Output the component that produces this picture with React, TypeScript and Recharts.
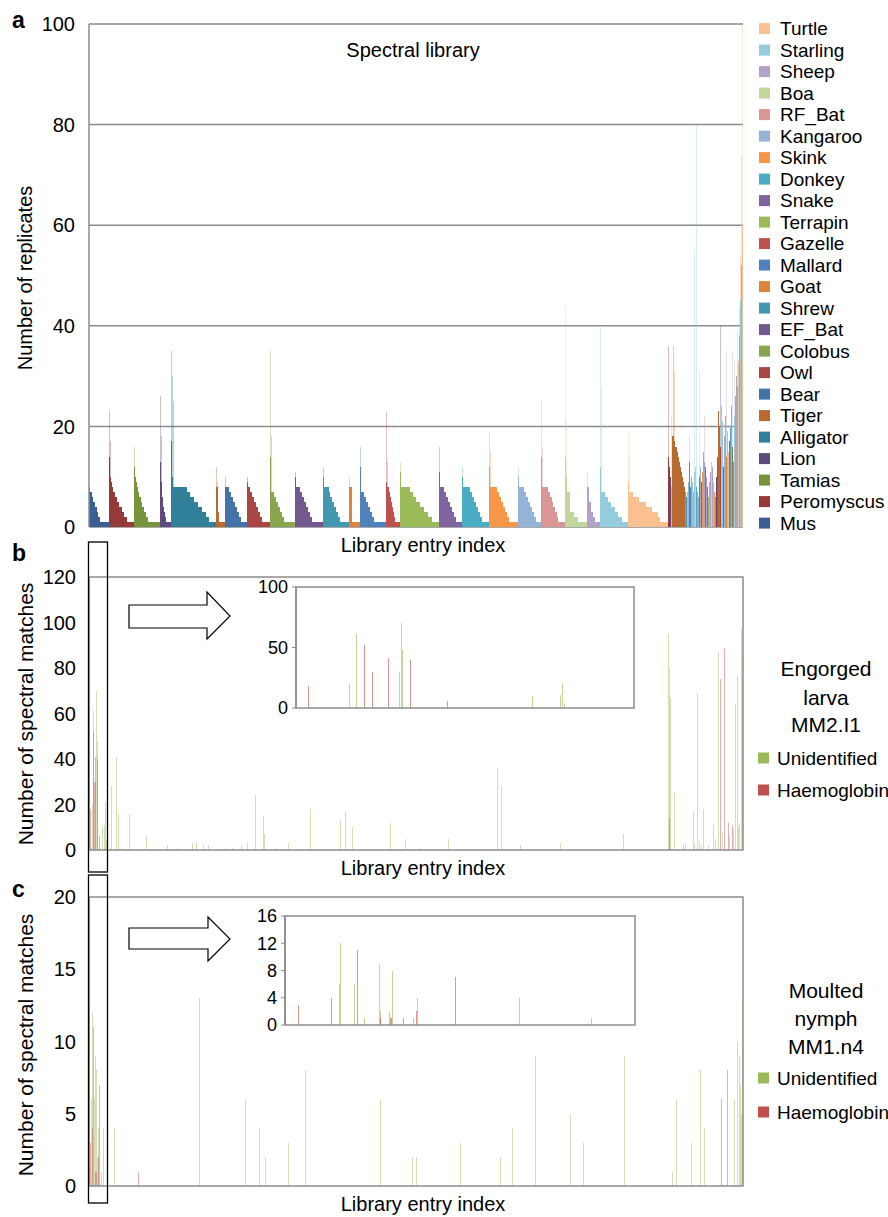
import React from 'react';
import { BarChart, Bar, XAxis, YAxis, CartesianGrid, Cell } from 'recharts';

const FONT = '"Liberation Sans", Arial, Helvetica, sans-serif';
const AXIS_GREY = '#8c8c8c';

// species in the order they appear along the library (left to right)
const speciesOrder = [
  'Mus', 'Peromyscus', 'Tamias', 'Lion', 'Alligator', 'Tiger', 'Bear', 'Owl',
  'Colobus', 'EF_Bat', 'Shrew', 'Goat', 'Mallard', 'Gazelle', 'Terrapin', 'Snake',
  'Donkey', 'Skink', 'Kangaroo', 'RF_Bat', 'Boa', 'Sheep', 'Starling', 'Turtle',
];
const speciesColors = [
  '#3a6093', '#953a38', '#77933c', '#5e4a7c', '#31809a', '#b96a2f', '#4572a7', '#aa4643',
  '#89a54e', '#71588f', '#4198af', '#db843d', '#4f81bd', '#c0504d', '#9bbb59', '#8064a2',
  '#4bacc6', '#f79646', '#95b3d7', '#d99694', '#c3d69b', '#b3a2c7', '#93cddd', '#fac090',
];

// replicate counts per species block: faint top entries, then [value, run length]
const blockPeaks = [
  [], [23, 17], [16], [26, 18], [35, 30, 25], [12, 9], [10], [10],
  [35, 18], [11], [12], [10], [16], [23, 13], [13], [16],
  [12], [19, 15], [12], [25, 16], [44, 21], [11], [40, 28], [19, 14],
];
const blockSteps = [
  [[8, 1], [7, 2], [6, 1], [5, 2], [4, 2], [3, 1], [2, 2], [1, 9]],
  [[14, 1], [10, 1], [9, 1], [8, 1], [7, 2], [6, 2], [5, 2], [4, 3], [3, 2], [2, 3], [1, 7]],
  [[12, 1], [10, 1], [9, 1], [8, 1], [7, 1], [6, 2], [5, 1], [4, 2], [3, 2], [2, 2], [1, 12]],
  [[13, 1], [9, 1], [6, 1], [4, 1], [3, 1], [2, 1], [1, 5]],
  [[17, 1], [10, 1], [8, 14], [7, 3], [6, 4], [5, 4], [4, 4], [3, 4], [2, 3], [1, 7]],
  [[8, 2], [3, 1], [1, 6]],
  [[8, 4], [7, 2], [6, 2], [5, 2], [4, 2], [3, 2], [2, 2], [1, 6]],
  [[9, 1], [8, 2], [7, 2], [6, 2], [5, 2], [4, 2], [3, 2], [2, 2], [1, 8]],
  [[14, 1], [7, 3], [6, 2], [5, 2], [4, 2], [3, 2], [2, 2], [1, 11]],
  [[10, 1], [8, 4], [7, 2], [6, 2], [5, 2], [4, 2], [3, 2], [2, 2], [1, 11]],
  [[10, 1], [8, 5], [7, 1], [6, 2], [5, 2], [4, 2], [3, 2], [2, 2], [1, 9]],
  [[8, 3], [1, 8]],
  [[12, 1], [7, 3], [6, 2], [5, 2], [4, 2], [3, 2], [2, 2], [1, 12]],
  [[9, 1], [8, 2], [7, 1], [6, 1], [5, 1], [4, 1], [3, 1], [2, 1], [1, 5]],
  [[11, 1], [8, 9], [7, 3], [6, 3], [5, 4], [4, 4], [3, 4], [2, 4], [1, 7]],
  [[11, 1], [8, 4], [7, 2], [6, 2], [5, 2], [4, 2], [3, 2], [2, 2], [1, 6]],
  [[10, 1], [8, 7], [7, 2], [6, 2], [5, 2], [4, 2], [3, 2], [2, 2], [1, 7]],
  [[12, 1], [8, 7], [7, 2], [6, 2], [5, 2], [4, 2], [3, 2], [2, 2], [1, 9]],
  [[10, 1], [8, 5], [7, 2], [6, 2], [5, 2], [4, 2], [3, 2], [2, 2], [1, 5]],
  [[14, 1], [8, 6], [7, 2], [6, 2], [5, 1], [4, 2], [3, 2], [2, 1], [1, 7]],
  [[14, 1], [10, 1], [7, 3], [3, 4], [2, 4], [1, 9]],
  [[8, 2], [5, 2], [3, 2], [2, 2], [1, 5]],
  [[12, 1], [7, 4], [6, 3], [5, 3], [4, 4], [3, 3], [2, 4], [1, 6]],
  [[9, 1], [7, 4], [6, 6], [5, 7], [4, 6], [3, 6], [2, 2], [1, 8]],
];

// entries with several species mixed, at the right end of the library
const mixedSpecies = [
  'Peromyscus', 'Peromyscus', 'Lion', 'Starling', 'Tiger', 'Tiger', 'Tiger', 'Tiger', 'Tiger', 'Tiger',
  'Tiger', 'Tiger', 'Tiger', 'Tiger', 'Tiger', 'Tiger', 'Tiger', 'Colobus', 'Shrew', 'Starling',
  'Kangaroo', 'Tiger', 'Mallard', 'RF_Bat', 'Starling', 'Kangaroo', 'Starling', 'Turtle', 'Donkey', 'Skink',
  'Sheep', 'Mallard', 'Kangaroo', 'Gazelle', 'Skink', 'Sheep', 'Sheep', 'Snake', 'Sheep', 'Tiger',
  'Terrapin', 'Kangaroo', 'Sheep', 'Turtle', 'Sheep', 'Starling', 'Skink', 'Goat', 'Lion', 'Bear',
  'Tiger', 'Tiger', 'Owl', 'Starling', 'Starling', 'Gazelle', 'Kangaroo', 'Sheep', 'Goat', 'Starling',
  'Turtle', 'Snake', 'Donkey', 'Sheep', 'Tiger', 'Goat', 'Starling', 'Skink', 'Sheep', 'RF_Bat',
  'Turtle', 'Sheep', 'Starling', 'Kangaroo', 'Turtle',
];
const mixedValues = [
  14, 12, 10, 8, 18, 18, 17, 16, 16, 15,
  14, 13, 12, 11, 10, 9, 8, 7, 6, 7,
  9, 13, 8, 10, 9, 7, 11, 12, 8, 7,
  6, 10, 12, 9, 11, 15, 13, 12, 10, 8,
  6, 9, 11, 13, 12, 9, 7, 6, 10, 14,
  23, 20, 16, 24, 21, 12, 18, 22, 14, 19,
  15, 17, 20, 24, 16, 13, 22, 26, 30, 28,
  33, 38, 45, 52, 60,
];
const mixedPeakIdx = [0, 3, 5, 6, 21, 26, 28, 31, 36, 52, 58, 64, 66, 69, 71, 72, 73, 74];
const mixedPeakSpecies = [
  'Peromyscus', 'Starling', 'Tiger', 'Skink', 'Skink', 'Starling', 'Starling', 'Turtle', 'RF_Bat',
  'Mus', 'Sheep', 'Sheep', 'Starling', 'Sheep', 'Skink', 'RF_Bat', 'Starling', 'Turtle',
];
const mixedPeakValues = [36, 22, 36, 31, 18, 55, 80, 31, 22, 40, 35, 35, 33, 39, 44, 54, 74, 100];

const replicateTicks = [0, 20, 40, 60, 80, 100];

// panel b: spectral matches per library entry (entry index, count)
const larvaUnidentified = [
  [2, 1], [3, 20], [4, 61], [6, 30], [7, 70], [8, 48], [10, 1], [13, 10], [15, 11], [16, 21], [17, 4],
  [22, 28], [27, 41], [29, 16], [33, 1], [40, 16], [57, 6], [78, 2], [88, 1], [103, 3], [107, 3],
  [114, 2], [119, 2], [136, 1], [143, 1], [152, 2], [158, 3], [166, 24], [174, 15], [175, 7],
  [186, 1], [199, 3], [221, 18], [251, 13], [256, 17], [263, 10], [301, 12], [316, 5], [331, 1],
  [359, 5], [408, 36], [412, 28], [431, 2], [471, 3], [534, 7], [579, 95], [580, 80], [581, 67],
  [585, 25], [594, 2], [596, 3], [604, 17], [605, 3], [608, 69], [610, 4], [612, 2], [614, 18],
  [619, 2], [624, 11], [626, 5], [629, 87], [633, 8], [640, 6], [644, 9], [646, 64], [648, 77],
  [649, 10], [650, 12], [652, 97], [653, 88],
];
const larvaHaemoglobin = [
  [1, 18], [4, 52], [5, 30], [6, 41], [8, 40], [10, 6], [580, 14], [631, 75], [635, 89], [639, 12], [643, 11],
];
const larvaTicks = [0, 20, 40, 60, 80, 100, 120];

// panel b inset: the first library entries spread out
const larvaInsetUnidentified = [
  [33, 1], [53, 20], [60, 61], [103, 30], [105, 70], [106, 48], [157, 1], [236, 10], [264, 11], [266, 21], [268, 4],
];
const larvaInsetHaemoglobin = [[12, 18], [68, 52], [76, 30], [92, 41], [114, 40], [151, 6]];
const larvaInsetTicks = [0, 50, 100];

// panel c
const nymphUnidentified = [
  [2, 6], [3, 12], [5, 6], [6, 9], [7, 8], [8, 2], [9, 4], [12, 1], [14, 4], [25, 4], [110, 13],
  [156, 6], [170, 4], [176, 2], [199, 3], [216, 8], [291, 6], [323, 2], [327, 2], [371, 3], [411, 2],
  [423, 4], [446, 9], [481, 5], [494, 3], [535, 9], [583, 1], [587, 6], [602, 3], [611, 8], [615, 4],
  [645, 6], [648, 10], [650, 9], [651, 7], [652, 5], [653, 13],
];
const nymphHaemoglobin = [[1, 3], [3, 4], [4, 11], [6, 1], [7, 1], [9, 2], [10, 7], [49, 1], [632, 6], [638, 8]];
const nymphTicks = [0, 5, 10, 15, 20];

const nymphInsetUnidentified = [
  [54, 6], [55, 12], [69, 6], [79, 1], [94, 9], [95, 2], [104, 2], [107, 8], [128, 1], [132, 4], [234, 4], [306, 1],
];
const nymphInsetHaemoglobin = [
  [13, 3], [46, 4], [72, 11], [95, 1], [105, 1], [106, 1], [118, 1], [131, 2], [170, 7],
];
const nymphInsetTicks = [0, 4, 8, 12, 16];

const LIB_SIZE = 654;
const GREEN = '#9bbb59';
const RED = '#c0504d';

const colorOf: Record<string, string> = {};
speciesOrder.forEach((s, k) => { colorOf[s] = speciesColors[k]; });

function buildLibrary() {
  const rows: { i: number; body: number; bodySp: string; peak: number; peakSp: string }[] = [];
  speciesOrder.forEach((sp, k) => {
    const start = rows.length;
    blockSteps[k].forEach(([v, n]) => {
      for (let j = 0; j < n; j++) rows.push({ i: rows.length, body: v, bodySp: sp, peak: 0, peakSp: sp });
    });
    blockPeaks[k].forEach((v, j) => { rows[start + j].peak = v; });
  });
  const mixStart = rows.length;
  mixedValues.forEach((v, j) => {
    rows.push({ i: rows.length, body: v, bodySp: mixedSpecies[j], peak: 0, peakSp: mixedSpecies[j] });
  });
  mixedPeakIdx.forEach((p, j) => {
    rows[mixStart + p].peak = mixedPeakValues[j];
    rows[mixStart + p].peakSp = mixedPeakSpecies[j];
  });
  return rows;
}

function buildMatches(n: number, unid: number[][], haem: number[][]) {
  const rows = Array.from({ length: n }, (_, i) => ({ i, u: 0, h: 0 }));
  unid.forEach(([i, v]) => { rows[i].u = v; });
  haem.forEach(([i, v]) => { rows[i].h = v; });
  return rows;
}

const libraryRows = buildLibrary();
const larvaRows = buildMatches(LIB_SIZE, larvaUnidentified, larvaHaemoglobin);
const nymphRows = buildMatches(LIB_SIZE, nymphUnidentified, nymphHaemoglobin);
const larvaInsetRows = buildMatches(338, larvaInsetUnidentified, larvaInsetHaemoglobin);
const nymphInsetRows = buildMatches(350, nymphInsetUnidentified, nymphInsetHaemoglobin);

const tickStyle = (size: number) => ({ fontSize: size, fill: '#000', fontFamily: FONT });

function MatchChart(props: {
  rows: { i: number; u: number; h: number }[];
  width: number; height: number; yWidth: number;
  margin: { top: number; right: number; bottom: number; left: number };
  max: number; ticks: number[]; fontSize: number; tickSize: number; tickMargin: number; opacity: number;
}) {
  const { rows, width, height, yWidth, margin, max, ticks, fontSize, tickSize, tickMargin, opacity } = props;
  return (
    <BarChart width={width} height={height} data={rows} margin={margin} barCategoryGap={0} barGap={0}>
      <XAxis xAxisId="u" dataKey="i" hide />
      <XAxis xAxisId="h" dataKey="i" hide />
      <YAxis
        width={yWidth} domain={[0, max]} ticks={ticks} interval={0} allowDataOverflow
        tick={tickStyle(fontSize)} tickSize={tickSize} tickMargin={tickMargin}
        tickLine={tickSize > 0 ? { stroke: AXIS_GREY } : false}
        axisLine={{ stroke: AXIS_GREY, strokeWidth: 1.5 }}
      />
      <Bar xAxisId="u" dataKey="u" fill={GREEN} fillOpacity={opacity} isAnimationActive={false} shapeRendering="crispEdges" />
      <Bar xAxisId="h" dataKey="h" fill={RED} fillOpacity={opacity} isAnimationActive={false} shapeRendering="crispEdges" />
    </BarChart>
  );
}

const legendTop = 28.6;
const legendStep = 21.5;

export default function App() {
  const legendItems = speciesOrder.map((s, k) => ({ s, c: speciesColors[k] })).reverse();
  return (
    <div style={{ position: 'absolute', left: 0, top: 0, width: 888, height: 1217, background: '#fff', fontFamily: FONT }}>
      {/* a: spectral library */}
      <div style={{ position: 'absolute', left: 0, top: 0 }}>
        <BarChart width={760} height={560} data={libraryRows} margin={{ top: 24, right: 17, bottom: 33, left: 0 }} barCategoryGap={0} barGap={0}>
          <XAxis xAxisId="p" dataKey="i" hide />
          <XAxis xAxisId="b" dataKey="i" hide />
          <CartesianGrid xAxisId="b" vertical={false} stroke={AXIS_GREY} strokeWidth={1.5} />
          <YAxis
            width={89} domain={[0, 100]} ticks={replicateTicks} interval={0}
            tick={tickStyle(20)} tickSize={0} tickMargin={14} tickLine={false}
            axisLine={{ stroke: AXIS_GREY, strokeWidth: 1.5 }}
          />
          <Bar xAxisId="p" dataKey="peak" isAnimationActive={false} shapeRendering="crispEdges">
            {libraryRows.map((r) => <Cell key={r.i} fill={colorOf[r.peakSp]} fillOpacity={0.35} />)}
          </Bar>
          <Bar xAxisId="b" dataKey="body" isAnimationActive={false} shapeRendering="crispEdges">
            {libraryRows.map((r) => <Cell key={r.i} fill={colorOf[r.bodySp]} />)}
          </Bar>
        </BarChart>
      </div>

      {/* b: engorged larva */}
      <div style={{ position: 'absolute', left: 0, top: 560 }}>
        <MatchChart rows={larvaRows} width={760} height={300} yWidth={89}
          margin={{ top: 17, right: 17, bottom: 10, left: 0 }} max={120} ticks={larvaTicks}
          fontSize={20} tickSize={0} tickMargin={13} opacity={0.45} />
      </div>
      <div style={{ position: 'absolute', left: 240, top: 577 }}>
        <MatchChart rows={larvaInsetRows} width={400} height={140} yWidth={56}
          margin={{ top: 10, right: 6, bottom: 9, left: 0 }} max={100} ticks={larvaInsetTicks}
          fontSize={18} tickSize={4} tickMargin={4} opacity={0.6} />
      </div>

      {/* c: moulted nymph */}
      <div style={{ position: 'absolute', left: 0, top: 880 }}>
        <MatchChart rows={nymphRows} width={760} height={316} yWidth={89}
          margin={{ top: 17, right: 17, bottom: 10, left: 0 }} max={20} ticks={nymphTicks}
          fontSize={20} tickSize={0} tickMargin={13} opacity={0.45} />
      </div>
      <div style={{ position: 'absolute', left: 230, top: 906 }}>
        <MatchChart rows={nymphInsetRows} width={410} height={128} yWidth={55}
          margin={{ top: 10, right: 5, bottom: 9, left: 0 }} max={16} ticks={nymphInsetTicks}
          fontSize={18} tickSize={4} tickMargin={4} opacity={0.6} />
      </div>

      {/* labels, frames and arrows */}
      <svg width={888} height={1217} style={{ position: 'absolute', left: 0, top: 0, pointerEvents: 'none' }} fontFamily={FONT}>
        <text x={12} y={20} fontSize={23} fontWeight="bold" dominantBaseline="central">a</text>
        <text x={413} y={50} fontSize={20} textAnchor="middle" dominantBaseline="central">Spectral library</text>
        <text x={423} y={545} fontSize={20} textAnchor="middle" dominantBaseline="central">Library entry index</text>
        <text x={25} y={278} fontSize={20} textAnchor="middle" dominantBaseline="central" transform="rotate(-90 25 278)">Number of replicates</text>
        {legendItems.map((it, k) => (
          <g key={it.s}>
            <rect x={759} y={legendTop + k * legendStep - 5.5} width={11} height={11} fill={it.c} />
            <text x={780} y={legendTop + k * legendStep} fontSize={19} dominantBaseline="central">{it.s}</text>
          </g>
        ))}

        <text x={12} y={553} fontSize={23} fontWeight="bold" dominantBaseline="central">b</text>
        <rect x={89} y={577} width={654} height={273} fill="none" stroke={AXIS_GREY} strokeWidth={1.5} />
        <rect x={296} y={587} width={338} height={121} fill="none" stroke={AXIS_GREY} strokeWidth={1.5} />
        <text x={25} y={714} fontSize={21} textAnchor="middle" dominantBaseline="central" transform="rotate(-90 25 714)">Number of spectral matches</text>
        <text x={423} y={868} fontSize={20} textAnchor="middle" dominantBaseline="central">Library entry index</text>
        <rect x={88.5} y={542} width={19} height={330} fill="none" stroke="#000" strokeWidth={1.3} />
        <path d="M129,605 H207 V592 L230,616 L207,639 V628 H129 Z" fill="#fff" stroke="#000" strokeWidth={1.2} />
        <text x={826} y={668} fontSize={21} textAnchor="middle" dominantBaseline="central">Engorged</text>
        <text x={826} y={697} fontSize={21} textAnchor="middle" dominantBaseline="central">larva</text>
        <text x={826} y={724} fontSize={21} textAnchor="middle" dominantBaseline="central">MM2.I1</text>
        <rect x={758} y={752.5} width={11} height={11} fill={GREEN} />
        <text x={777} y={758} fontSize={19} dominantBaseline="central">Unidentified</text>
        <rect x={758} y={784.5} width={11} height={11} fill={RED} />
        <text x={777} y={790} fontSize={19} dominantBaseline="central">Haemoglobin</text>

        <text x={12} y={889} fontSize={23} fontWeight="bold" dominantBaseline="central">c</text>
        <rect x={89} y={897} width={654} height={289} fill="none" stroke={AXIS_GREY} strokeWidth={1.5} />
        <rect x={285} y={916} width={350} height={109} fill="none" stroke={AXIS_GREY} strokeWidth={1.5} />
        <text x={25} y={1045} fontSize={21} textAnchor="middle" dominantBaseline="central" transform="rotate(-90 25 1045)">Number of spectral matches</text>
        <text x={423} y={1204} fontSize={20} textAnchor="middle" dominantBaseline="central">Library entry index</text>
        <rect x={88.5} y={875} width={19} height={328} fill="none" stroke="#000" strokeWidth={1.3} />
        <path d="M129,928 H208 V917 L230,939 L208,961 V949 H129 Z" fill="#fff" stroke="#000" strokeWidth={1.2} />
        <text x={826} y={990} fontSize={21} textAnchor="middle" dominantBaseline="central">Moulted</text>
        <text x={826} y={1018} fontSize={21} textAnchor="middle" dominantBaseline="central">nymph</text>
        <text x={826} y={1046} fontSize={21} textAnchor="middle" dominantBaseline="central">MM1.n4</text>
        <rect x={758} y={1072.5} width={11} height={11} fill={GREEN} />
        <text x={777} y={1078} fontSize={19} dominantBaseline="central">Unidentified</text>
        <rect x={758} y={1106.5} width={11} height={11} fill={RED} />
        <text x={777} y={1112} fontSize={19} dominantBaseline="central">Haemoglobin</text>
      </svg>
    </div>
  );
}
